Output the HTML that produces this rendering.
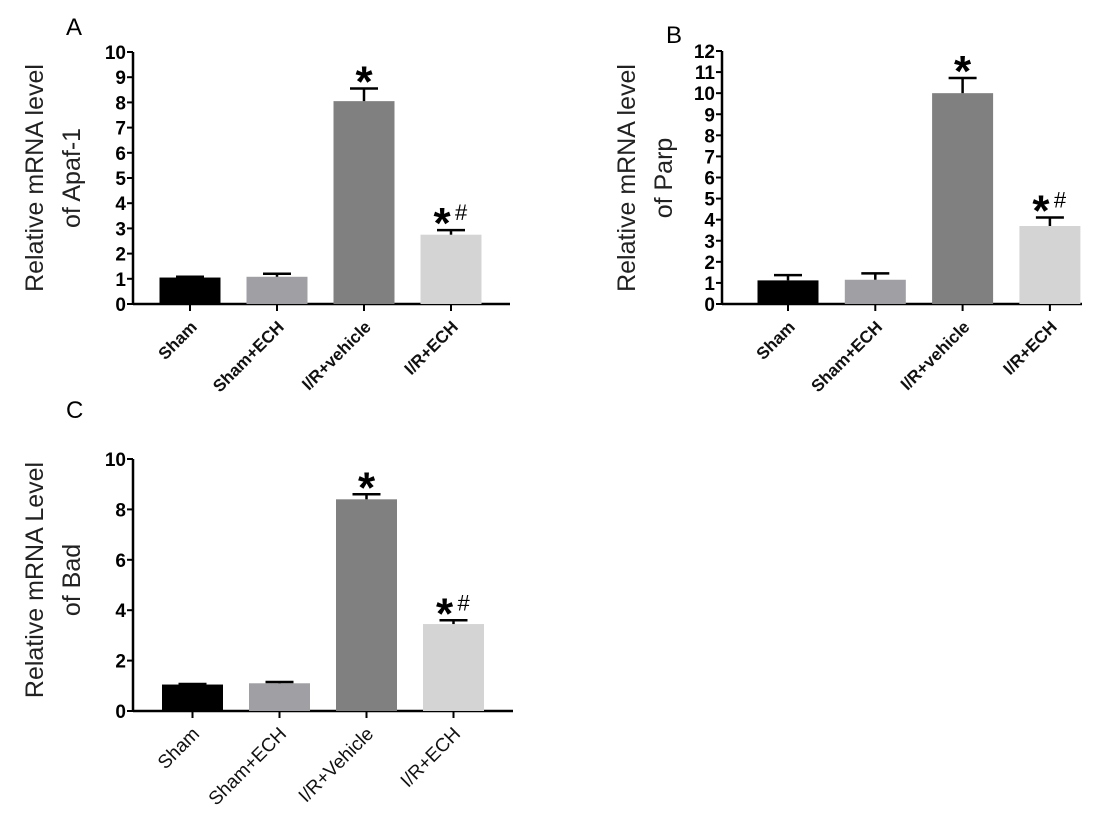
<!DOCTYPE html>
<html><head><meta charset="utf-8"><style>
body{margin:0;background:#fff;width:1120px;height:825px;overflow:hidden}
svg{font-family:"Liberation Sans",Arial,sans-serif}
</style></head><body>
<svg id="s" width="1120" height="825"></svg>
<script>
const categoriesA=["Sham","Sham+ECH","I/R+vehicle","I/R+ECH"];
const valuesA=[1.05,1.08,8.05,2.75];
const errorsA=[0.03,0.12,0.5,0.18];
const marksA=["","","*","*#"];
const ticksA=[0,1,2,3,4,5,6,7,8,9,10];
const categoriesB=["Sham","Sham+ECH","I/R+vehicle","I/R+ECH"];
const valuesB=[1.12,1.15,10.0,3.7];
const errorsB=[0.25,0.3,0.72,0.4];
const marksB=["","","*","*#"];
const ticksB=[0,1,2,3,4,5,6,7,8,9,10,11,12];
const categoriesC=["Sham","Sham+ECH","I/R+Vehicle","I/R+ECH"];
const valuesC=[1.05,1.1,8.4,3.45];
const errorsC=[0.02,0.05,0.2,0.15];
const marksC=["","","*","*#"];
const ticksC=[0,2,4,6,8,10];
const colors=["#000000","#a0a0a4","#808080","#d4d4d4"];
const NS="http://www.w3.org/2000/svg";
const svg=document.getElementById('s');
function mk(tag,attrs,parent,text){const e=document.createElementNS(NS,tag);for(const k in attrs)e.setAttribute(k,attrs[k]);if(text!==undefined)e.textContent=text;(parent||svg).appendChild(e);return e;}
function panel(p){
  const g=mk('g',{});
  
  
  const y=v=>p.y0-(v-0)/p.max*(p.y0-p.yTop);
  const x=i=>p.x0+p.first+i*p.step;
  const lt=mk('text',{x:p.lx,y:p.ly,'font-size':24,fill:'#000'},g,p.id);
  
  
  const yt=mk('text',{transform:`translate(${p.tx},${p.ty}) rotate(-90)`,'text-anchor':'middle','font-size':25,fill:'#222'},g);
  
  
  mk('tspan',{x:0,dy:0},yt,p.title1);
  mk('tspan',{x:0,dy:37},yt,p.title2);
  const ya=mk('line',{x1:p.x0,x2:p.x0,y1:p.yTop,y2:p.y0,stroke:'#000','stroke-width':2.5},g);
  
  
  const xa=mk('line',{x1:p.x0,x2:p.xEnd,y1:p.y0,y2:p.y0,stroke:'#000','stroke-width':2.5},g);
  
  
  p.ticks.forEach(t=>{
    mk('line',{x1:p.x0-6,x2:p.x0,y1:y(t),y2:y(t),stroke:'#000','stroke-width':2},g);
    const tl=mk('text',{x:p.x0-7,y:y(t)+7,'text-anchor':'end','font-size':19,'font-weight':'bold'},g,t);
    
    
  });
  p.cats.forEach((c,i)=>{
    const cx=x(i);
    const b=mk('rect',{x:cx-p.bw/2,y:y(p.vals[i]),width:p.bw,height:p.y0-y(p.vals[i]),fill:colors[i]},g);
    
    
    const top=y(p.vals[i]+p.errs[i]);
    mk('line',{x1:cx,x2:cx,y1:y(p.vals[i]),y2:top,stroke:'#000','stroke-width':2.5},g);
    const eb=mk('line',{x1:cx-14,x2:cx+14,y1:top,y2:top,stroke:'#000','stroke-width':2.5},g);
    
    
    mk('line',{x1:cx,x2:cx,y1:p.y0,y2:p.y0+7,stroke:'#000','stroke-width':2},g);
    const m=p.marks[i];
    if(m){
      const st=mk('text',{x:m.length>1?cx-9:cx,y:top+8,'text-anchor':'middle','font-size':44,'font-weight':'bold'},g,'*');
      
      
      if(m.length>1){const h=mk('text',{x:cx+4,y:top-10,'font-size':22},g,'#');
        
        }
    }
    const lb=mk('text',{transform:`translate(${cx+8},${p.y0+24}) rotate(-45)`,'text-anchor':'end','font-size':p.lfs,'font-weight':p.bold?'bold':'normal',fill:'#111'},g,c);
    
    
  });
}
panel({id:'A',lx:66,ly:35,x0:133,xEnd:510,yTop:52,y0:304,max:10,first:57,step:87,bw:61,ticks:ticksA,cats:categoriesA,vals:valuesA,errs:errorsA,marks:marksA,tx:43,ty:178,title1:'Relative mRNA level',title2:'of Apaf-1',bold:true,lfs:17});
panel({id:'B',lx:666,ly:43,x0:722,xEnd:1082,yTop:51,y0:304,max:12,first:66,step:87.3,bw:61,ticks:ticksB,cats:categoriesB,vals:valuesB,errs:errorsB,marks:marksB,tx:635,ty:178,title1:'Relative mRNA level',title2:'of Parp',bold:true,lfs:17});
panel({id:'C',lx:66,ly:418,x0:133,xEnd:513,yTop:459,y0:711,max:10,first:59.5,step:87,bw:61,ticks:ticksC,cats:categoriesC,vals:valuesC,errs:errorsC,marks:marksC,tx:43,ty:580,title1:'Relative mRNA Level',title2:'of Bad',bold:false,lfs:19});
</script>
</body></html>
